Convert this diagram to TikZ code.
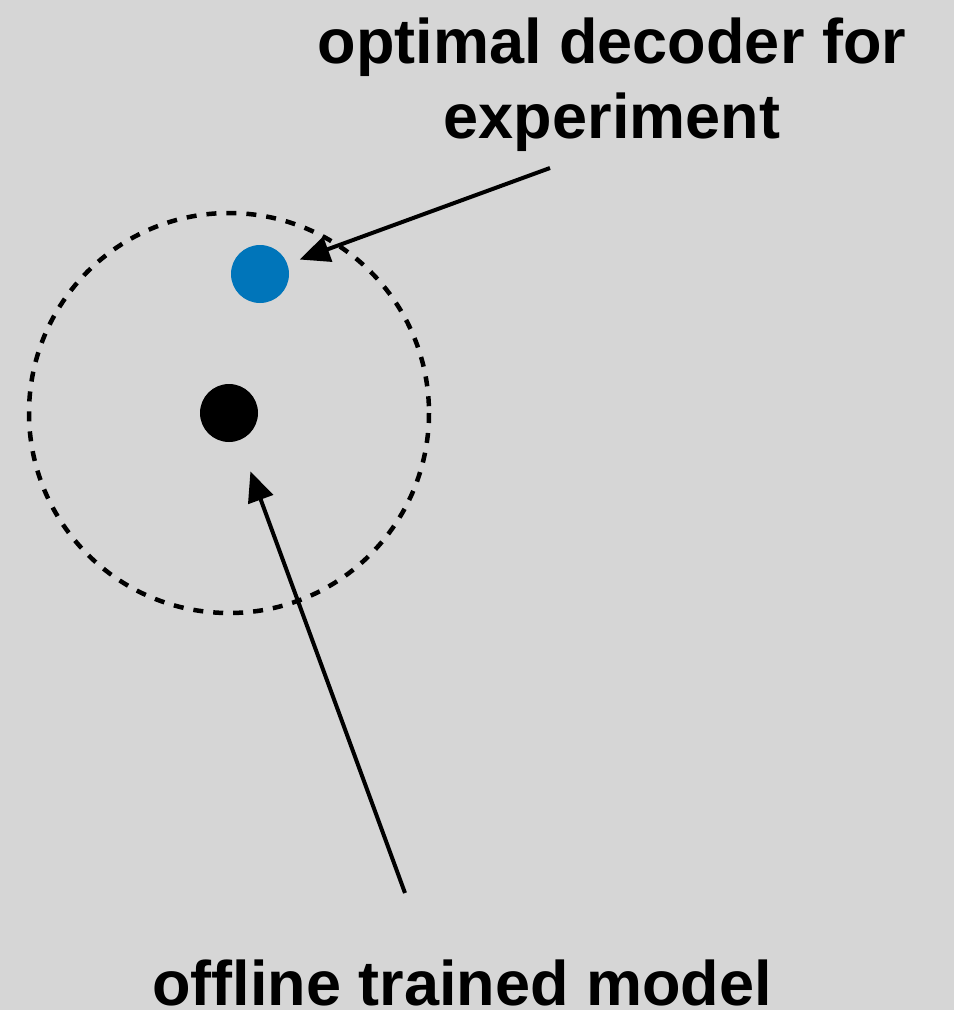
\documentclass[tikz,border=0pt]{standalone}
\usepackage{fontspec}
\setmainfont{Liberation Sans}
\usetikzlibrary{arrows.meta}
\definecolor{bg}{HTML}{D6D6D6}
\definecolor{dotblue}{HTML}{0075BA}
\begin{document}
\begin{tikzpicture}[x=1pt,y=-1pt,
  lbl/.style={font=\fontsize{63}{75}\selectfont\bfseries, align=center, inner sep=0pt, text=black},
  dot/.style={circle, minimum size=58pt, inner sep=0pt},
  pointer/.style={line width=4pt, -{Triangle[length=30pt,width=26pt]}, shorten >=#1},
]
\fill[bg] (0,0) rectangle (954,1010);
\useasboundingbox (0,0) rectangle (954,1010);
\draw[line width=4.5pt, dash pattern=on 10pt off 10pt] (229,413) circle[radius=200];
\node[dot, fill=dotblue] (blue) at (260,274) {};
\node[dot, fill=black] (black) at (229,413) {};
\node[lbl, anchor=base] (top1) at (612,63) {optimal decoder for};
\node[lbl, anchor=base] (top2) at (612,138) {experiment};
\node[lbl, anchor=base] (bot) at (462,1005) {offline trained model};
\coordinate (t1) at (550,168);
\coordinate (t2) at (405,893);
\draw[pointer=13pt] (t1) -- (blue);
\draw[pointer=33pt] (t2) -- (black);
\end{tikzpicture}
\end{document}
